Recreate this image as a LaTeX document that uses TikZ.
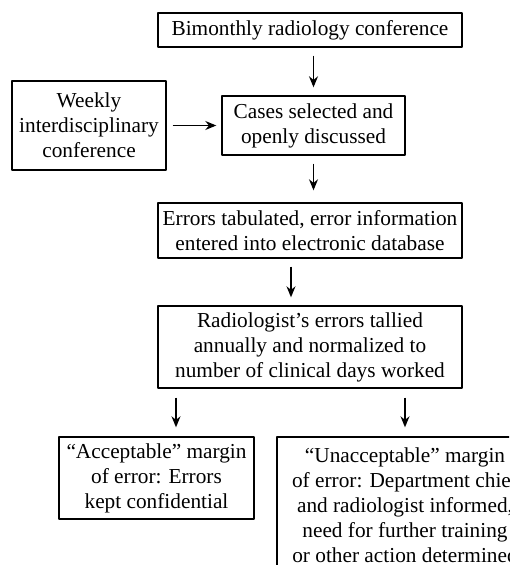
\documentclass[tikz,border=0pt]{standalone}
\usepackage{fontspec}
\setmainfont{Liberation Serif}
\usetikzlibrary{calc,arrows.meta}

\begin{document}
\begin{tikzpicture}[x=1pt, y=-1pt, >={Stealth[length=11pt,width=9pt]}, line join=round,
	font=\fontsize{21.3}{25}\selectfont,
	box/.style={draw, line width=1.4pt, inner sep=0pt, align=center},
	flow/.style={->, line width=1.4pt, shorten <=8pt, shorten >=8pt}]
	\useasboundingbox (0,0) rectangle (509,565);
	\clip (0,0) rectangle (509,565);
	% Các hộp
	\node[box, minimum width=304pt, minimum height=34pt] (bimonthly) at (310, 30) {Bimonthly radiology conference};
	\node[box, minimum width=154pt, minimum height=89pt] (weekly) at (89, 125.5) {Weekly\\ interdisciplinary\\ conference};
	\node[box, minimum width=183pt, minimum height=59pt] (cases) at (313.5, 125.5) {Cases selected and\\ openly discussed};
	\node[box, minimum width=304pt, minimum height=55pt] (errors) at (310, 230.5) {Errors tabulated, error information\\ entered into electronic database};
	\node[box, minimum width=304pt, minimum height=82pt] (tally) at (310, 347) {Radiologist’s errors tallied\\ annually and normalized to\\ number of clinical days worked};
	\node[box, minimum width=195pt, minimum height=82pt] (accept) at (156.5, 478) {“Acceptable” margin\\ of error: Errors\\ kept confidential};
	\node[box, minimum width=256pt, minimum height=137pt] (unaccept) at (405, 505.5) {“Unacceptable” margin\\ of error: Department chief\\ and radiologist informed,\\ need for further training\\ or other action determined};
	% Mũi tên
	\draw[flow] (cases.north |- bimonthly.south) -- (cases.north);
	\draw[flow, shorten <=6pt, shorten >=5pt] (weekly.east |- cases.west) -- (cases.west);
	\draw[flow, shorten >=12pt] (cases.south) -- (cases.south |- errors.north);
	\draw[flow] ([xshift=-19pt]errors.south) -- ([xshift=-19pt]tally.north);
	\coordinate (left) at (176, 0);
	\draw[flow, shorten <=9pt, shorten >=9pt] (tally.south -| left) -- (accept.north -| left);
	\draw[flow, shorten <=9pt, shorten >=9pt] (tally.south -| unaccept.north) -- (unaccept.north);
\end{tikzpicture}
\end{document}
